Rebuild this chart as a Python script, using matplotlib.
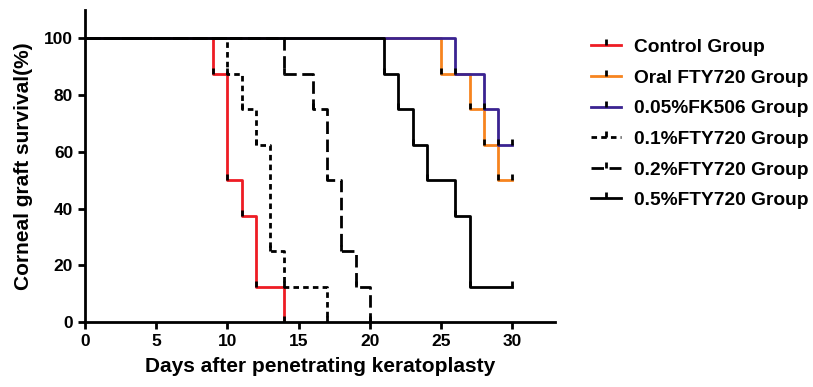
import matplotlib.pyplot as plt
from matplotlib.lines import Line2D

plt.rcParams['font.family'] = ['Liberation Sans', 'DejaVu Sans']
plt.rcParams['font.weight'] = 'bold'

# Kaplan-Meier step data: days and survival (%)
control_t = [0, 9, 10, 11, 12, 14]
control_s = [100, 87.5, 50, 37.5, 12.5, 0]
oral_t = [0, 25, 27, 28, 29, 30]
oral_s = [100, 87.5, 75, 62.5, 50, 50]
fk506_t = [0, 26, 28, 29, 30]
fk506_s = [100, 87.5, 75, 62.5, 62.5]
fty01_t = [0, 10, 11, 12, 13, 14, 17]
fty01_s = [100, 87.5, 75, 62.5, 25, 12.5, 0]
fty02_t = [0, 14, 16, 17, 18, 19, 20]
fty02_s = [100, 87.5, 75, 50, 25, 12.5, 0]
fty05_t = [0, 21, 22, 23, 24, 26, 27, 30]
fty05_s = [100, 87.5, 75, 62.5, 50, 37.5, 12.5, 12.5]

labels = ['Control Group', 'Oral FTY720 Group', '0.05%FK506 Group',
          '0.1%FTY720 Group', '0.2%FTY720 Group', '0.5%FTY720 Group']

series = [
    (control_t, control_s, '#ee1c24', '-'),
    (oral_t, oral_s, '#f7841f', '-'),
    (fk506_t, fk506_s, '#3a2391', '-'),
    (fty01_t, fty01_s, 'black', (0, (2, 1.5))),
    (fty02_t, fty02_s, 'black', (0, (4.5, 2))),
    (fty05_t, fty05_s, 'black', '-'),
]

# upward tick used for the step marks
tick = [(0, 0), (0, 1)]

fig = plt.figure(figsize=(8.13, 3.87), dpi=100)
ax = fig.add_axes([0.1046, 0.168, 0.578, 0.806])

handles = []
for (t, s, c, ls), lab in zip(series, labels):
    ax.step(t, s, where='post', color=c, linestyle=ls, linewidth=2)
    ax.plot(t[1:], s[1:], linestyle='none', marker=tick, color='black',
            markersize=8, markeredgewidth=2, clip_on=False)
    handles.append(Line2D([], [], color=c, linestyle=ls, linewidth=2,
                          marker=tick, markeredgecolor='black',
                          markersize=8, markeredgewidth=2))

ax.set_xlim(0, 33)
ax.set_ylim(0, 110)
ax.set_xticks([0, 5, 10, 15, 20, 25, 30])
ax.set_yticks([0, 20, 40, 60, 80, 100])
ax.tick_params(labelsize=12.5, width=2, length=5)
for sp in ['top', 'right']:
    ax.spines[sp].set_visible(False)
for sp in ['left', 'bottom']:
    ax.spines[sp].set_linewidth(2)

ax.set_xlabel('Days after penetrating keratoplasty', fontsize=15, fontweight='bold', labelpad=6)
ax.set_ylabel('Corneal graft survival(%)', fontsize=15, fontweight='bold', labelpad=8)

fig.legend(handles, labels, loc='upper left', bbox_to_anchor=(0.7055, 0.945),
           frameon=False, handlelength=1.55, handletextpad=0.7, labelspacing=0.69,
           prop={'weight': 'bold', 'size': 13.8})

fig.savefig('out.png', dpi=100)
